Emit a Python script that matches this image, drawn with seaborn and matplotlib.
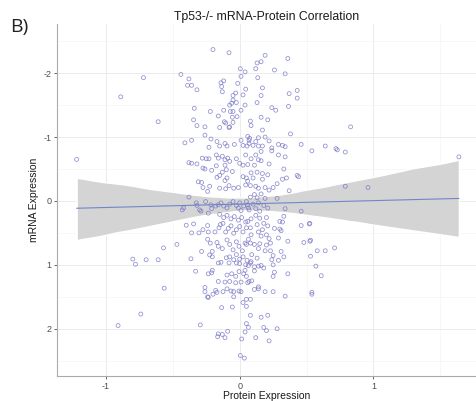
import matplotlib
matplotlib.use("Agg")
import matplotlib.pyplot as plt
import seaborn as sns
import pandas as pd
from matplotlib.ticker import MultipleLocator

# ---- data (protein, mRNA) ----
protein = [
 -0.20,-0.08,0.005,0.04,-0.72,-0.44,-0.38,-0.39,-0.36,-0.32,-0.14,-0.12,-0.135,-0.13,-0.015,0.01,0.045,-0.03,-0.05,0.025,
 -0.05,-0.025,-0.075,-0.06,0.04,-0.34,-0.22,-0.12,-0.07,-0.05,0.01,-0.02,-0.055,-0.16,-0.345,-0.61,-0.115,-0.105,-0.05,-0.32,
 -0.26,-0.15,-0.08,-0.075,-0.26,-0.41,-0.36,-0.215,-0.17,-0.23,-0.15,-0.11,-0.095,-0.04,0.01,0.025,0.06,0.07,0.055,
 0.19,0.36,0.16,0.13,0.12,0.26,0.34,0.135,0.17,0.37,0.43,0.43,0.16,0.13,0.24,0.27,0.365,0.16,0.21,0.08,
 0.085,0.17,0.38,0.83,0.075,0.14,0.19,0.22,0.12,0.07,0.10,0.14,0.17,0.29,0.32,0.34,0.46,0.64,0.72,0.24,
 -0.28,-0.25,-0.38,-0.32,-0.36,-0.23,-0.175,-0.16,-0.13,-0.11,-0.09,-0.075,-0.025,0.0,0.045,0.025,-0.26,-0.275,-0.21,-0.175,
 -0.11,-0.10,-0.13,-0.055,-0.17,-0.15,-0.095,-0.11,-0.31,-0.285,-0.275,-0.24,-0.225,-0.15,-0.105,-0.08,-0.045,-0.01,0.045,0.06,
 0.05,0.025,-0.38,-0.43,-0.42,-0.325,-0.32,-0.30,-0.29,-0.255,-0.215,-0.21,-0.18,-0.235,-0.16,-0.14,-0.12,-0.095,-0.075,-0.05,
 -0.025,-0.01,0.0,0.01,0.03,0.05,0.065,-0.15,-0.12,-0.095,-0.065,-0.04,-0.01,0.015,0.045,-0.40,-0.345,-0.36,-0.305,-0.24,
 -0.235,-0.275,-0.185,-0.155,-0.145,-0.125,-0.105,-0.085,-0.065,-0.045,-0.025,0.0,0.025,0.05,-0.57,-0.47,-0.285,-0.24,-0.22,-0.205,
 -0.17,-0.16,-0.13,-0.095,-0.075,-0.05,-0.025,-0.005,0.02,0.05,0.065,
 0.16,0.12,0.14,0.16,0.085,0.06,0.11,0.22,0.29,0.34,0.24,0.54,0.73,0.79,0.33,0.35,0.32,0.43,0.44,0.28,
 0.37,0.085,0.13,0.17,0.21,0.10,0.17,0.08,0.12,0.14,0.19,0.22,0.25,0.11,0.16,0.08,0.13,0.19,0.28,0.79,
 0.06,0.10,0.14,0.18,0.12,0.07,0.15,0.21,0.34,0.46,0.33,0.12,0.085,0.15,0.20,0.06,0.13,0.18,0.21,0.30,
 0.32,0.46,0.52,0.525,0.08,0.14,0.17,0.26,0.30,0.31,0.085,0.16,0.22,0.20,0.29,0.36,0.525,0.04,0.08,0.11,
 0.15,0.20,0.23,0.14,0.19,0.23,0.31,0.48,0.58,0.64,0.71,
 -0.70,-0.61,-0.365,-0.225,-0.205,-0.16,-0.14,-0.10,-0.075,-0.045,-0.025,0.0,0.025,0.055,-0.08,-0.025,0.0,0.045,0.065,-0.33,
 -0.235,-0.21,-0.205,-0.095,-0.06,-0.03,-0.005,0.03,0.05,-0.16,-0.11,-0.075,-0.03,0.01,0.06,-0.565,-0.26,-0.26,-0.18,-0.20,
 -0.17,-0.125,-0.095,-0.065,-0.045,-0.005,0.01,-0.24,-0.235,-0.045,-0.135,-0.055,-0.74,0.05,0.025,-0.295,-0.16,-0.165,-0.13,-0.11,
 -0.09,0.015,0.04,0.05,0.065,0.005,0.035,
 0.09,0.25,0.33,0.53,0.085,0.13,0.24,0.29,0.08,0.11,0.14,0.16,0.18,0.25,0.57,0.04,0.11,0.26,0.25,0.36,
 0.61,0.07,0.09,0.14,0.14,0.11,0.19,0.25,0.34,0.54,0.54,0.08,0.05,0.08,0.16,0.21,0.18,0.20,0.28,0.12,0.22,
 -1.22,-0.89,-0.91,1.64,0.96,0.53,-0.80,-0.78,
]
mrna = [
 -2.37,-2.32,-2.07,-2.02,-1.93,-1.98,-1.91,-1.81,-1.81,-1.74,-1.85,-1.88,-1.79,-1.71,-1.84,-1.95,-1.75,-1.69,-1.65,-1.66,
 -1.58,-1.54,-1.50,-1.53,-1.50,-1.45,-1.40,-1.42,-1.40,-1.40,-1.42,-1.32,-1.31,-1.33,-1.27,-1.24,-1.24,-1.22,-1.23,-1.18,
 -1.16,-1.15,-1.15,-1.16,-1.03,-0.91,-0.95,-0.97,-0.93,-0.84,-0.86,-0.90,-0.86,-0.885,-0.95,-0.87,-1.01,-0.95,-0.86,
 -2.28,-2.23,-2.18,-2.16,-2.07,-2.05,-1.99,-1.93,-1.77,-1.68,-1.73,-1.61,-1.65,-1.54,-1.46,-1.42,-1.48,-1.31,-1.27,-1.25,
 -1.18,-1.11,-1.05,-1.16,-0.98,-0.99,-1.00,-0.94,-0.93,-0.90,-0.87,-0.86,-0.86,-0.885,-0.87,-0.85,-0.885,-0.86,-0.82,-0.83,
 -0.67,-0.66,-0.60,-0.58,-0.59,-0.66,-0.72,-0.67,-0.70,-0.645,-0.67,-0.62,-0.66,-0.59,-0.72,-0.56,-0.50,-0.515,-0.48,-0.55,
 -0.56,-0.49,-0.45,-0.46,-0.37,-0.40,-0.36,-0.32,-0.30,-0.29,-0.21,-0.15,-0.23,-0.20,-0.19,-0.24,-0.20,-0.21,-0.25,-0.31,
 -0.36,-0.38,-0.06,0.14,0.11,0.03,0.07,0.14,0.16,0.01,0.06,0.12,0.08,0.19,0.06,0.03,0.08,0.11,0.05,0.01,
 0.07,0.11,0.03,0.15,0.08,0.01,0.11,0.21,0.26,0.225,0.28,0.245,0.30,0.26,0.33,0.38,0.36,0.50,0.50,0.385,
 0.485,0.45,0.485,0.42,0.37,0.35,0.485,0.43,0.39,0.505,0.45,0.40,0.485,0.42,0.735,0.68,0.79,0.60,0.66,0.79,
 0.65,0.71,0.745,0.61,0.68,0.765,0.64,0.71,0.78,0.68,0.60,
 -0.775,-0.72,-0.645,-0.63,-0.66,-0.57,-0.56,-0.58,-0.72,-0.69,-0.785,-0.785,-0.80,-0.765,-0.50,-0.36,-0.34,-0.40,-0.38,-0.27,
 -0.16,-0.44,-0.45,-0.43,-0.41,-0.36,-0.34,-0.24,-0.23,-0.20,-0.21,-0.17,-0.21,-0.10,-0.11,-0.06,-0.05,-0.04,-0.04,-0.23,
 0.06,0.05,0.03,0.07,0.12,0.14,0.16,0.11,0.12,0.16,0.24,0.225,0.28,0.27,0.26,0.32,0.37,0.35,0.39,0.32,
 0.33,0.385,0.36,0.35,0.42,0.485,0.45,0.43,0.44,0.465,0.53,0.55,0.59,0.53,0.58,0.63,0.63,0.66,0.66,0.68,
 0.67,0.69,0.66,0.745,0.78,0.78,0.79,0.65,0.78,0.78,0.735,
 0.92,0.92,0.905,0.845,0.875,0.97,0.96,0.89,0.875,0.92,0.84,0.91,0.875,0.93,0.97,0.97,0.98,1.00,1.01,1.10,
 1.14,1.125,1.085,1.16,1.14,1.18,1.105,1.14,1.18,1.26,1.27,1.26,1.28,1.27,1.28,1.365,1.355,1.42,1.40,1.46,
 1.43,1.42,1.375,1.41,1.42,1.41,1.42,1.50,1.51,1.50,1.67,1.66,1.77,1.54,1.59,1.94,2.08,2.125,2.09,2.14,
 2.04,2.16,2.05,1.92,1.98,2.42,2.46,
 0.84,0.855,0.875,0.865,0.95,0.895,0.92,0.93,0.97,1.03,1.02,1.01,1.05,1.00,1.02,1.085,1.095,1.115,1.18,1.14,
 1.17,1.26,1.25,1.345,1.375,1.385,1.42,1.42,1.49,1.43,1.46,1.54,1.65,1.79,1.82,1.79,1.98,2.03,2.00,2.14,2.19,
 -0.65,-1.63,1.95,-0.69,-0.21,0.615,0.91,0.99,
]

x_ticks = [-1, 0, 1]
y_ticks = [-2, -1, 0, 1, 2]
title = "Tp53-/- mRNA-Protein Correlation"
panel = "B)"

n = min(len(protein), len(mrna))
df = pd.DataFrame({"Protein Expression": protein[:n], "mRNA Expression": mrna[:n]})

sns.set_theme(style="white")
plt.rcParams["font.family"] = ["Liberation Sans", "DejaVu Sans"]
plt.rcParams["axes.unicode_minus"] = False

fig = plt.figure(figsize=(4.76, 4.01), dpi=100)
ax = fig.add_axes([57/476, 1-376/401, 1-57/476, (376-24)/401])

sns.regplot(data=df, x="Protein Expression", y="mRNA Expression", ax=ax,
            scatter=False, ci=95, color="#6f86c9", truncate=True,
            line_kws={"linewidth": 0.8, "zorder": 3})
for coll in ax.collections:
    coll.set_facecolor("#d4d4d4")
    coll.set_alpha(1.0)
    coll.set_zorder(1.5)

sns.scatterplot(data=df, x="Protein Expression", y="mRNA Expression", ax=ax,
                s=8, facecolor="none", edgecolor="#7272c4", linewidth=0.55,
                alpha=0.8, zorder=2)

ax.set_xlim(-1.367, 1.768)
ax.set_ylim(2.74, -2.77)
ax.set_xticks(x_ticks)
ax.set_yticks(y_ticks)
ax.xaxis.set_minor_locator(MultipleLocator(0.5))
ax.yaxis.set_minor_locator(MultipleLocator(0.5))
ax.grid(which="major", color="#ebebeb", linewidth=0.7, zorder=0)
ax.grid(which="minor", color="#f4f4f4", linewidth=0.5, zorder=0)
ax.set_axisbelow(True)

for s in ["top", "right"]:
    ax.spines[s].set_visible(False)
for s in ["left", "bottom"]:
    ax.spines[s].set_color("#aaaaaa")
    ax.spines[s].set_linewidth(0.8)

ax.tick_params(axis="both", which="major", labelsize=6.5, colors="#4d4d4d",
               length=2.5, width=0.6, pad=1.5, left=True, bottom=True)
ax.tick_params(axis="both", which="minor", length=0)

ax.set_xlabel("Protein Expression", fontsize=7.5, color="#1a1a1a", labelpad=0)
ax.set_ylabel("mRNA Expression", fontsize=7.5, color="#1a1a1a", labelpad=3)
ax.set_title(title, fontsize=8.8, color="#1a1a1a", pad=3)

fig.text(10/476, 1-32/401, panel, fontsize=14, color="#222222",
         family=["Open Sans", "DejaVu Sans"], ha="left", va="baseline")

fig.savefig("out.png", dpi=100)
